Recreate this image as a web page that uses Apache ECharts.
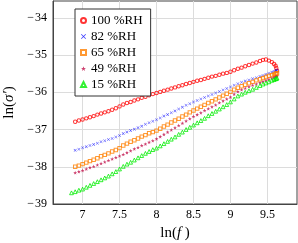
<!DOCTYPE html>
<html><head><meta charset="utf-8">
<script src="https://cdn.jsdelivr.net/npm/echarts@6/dist/echarts.min.js"></script>
<style>html,body{margin:0;padding:0;background:#fff}#c{width:298px;height:243px}</style>
</head><body><div id="c"></div>
<script>
const lnF = [6.85,6.90,6.95,7.00,7.05,7.10,7.15,7.20,7.25,7.30,
7.35,7.40,7.45,7.50,7.55,7.60,7.65,7.70,7.75,7.80,
7.85,7.90,7.95,8.00,8.05,8.10,8.15,8.20,8.25,8.30,
8.35,8.40,8.45,8.50,8.55,8.60,8.65,8.70,8.75,8.80,
8.85,8.90,8.95,9.00,9.05,9.10,9.15,9.20,9.25,9.30,
9.35,9.40,9.44,9.48,9.52,9.56,9.59,9.61,9.62,9.63];

const rh100 = [null,-36.79,-36.76,-36.73,-36.70,-36.67,-36.64,-36.60,-36.57,-36.54,
-36.51,-36.47,-36.43,-36.38,-36.33,-36.29,-36.26,-36.22,-36.19,-36.15,
-36.12,-36.08,-36.05,-36.02,-35.99,-35.96,-35.93,-35.90,-35.87,-35.84,
-35.81,-35.78,-35.75,-35.72,-35.69,-35.67,-35.64,-35.61,-35.58,-35.56,
-35.53,-35.50,-35.48,-35.45,-35.41,-35.37,-35.34,-35.30,-35.27,-35.23,
-35.20,-35.16,-35.13,-35.12,-35.15,-35.19,-35.24,-35.29,-35.35,-35.42];

const rh82 = [null,-37.56,-37.53,-37.49,-37.46,-37.43,-37.40,-37.37,-37.33,-37.30,
-37.27,-37.24,-37.20,-37.16,-37.11,-37.07,-37.03,-36.99,-36.95,-36.91,
-36.86,-36.82,-36.78,-36.74,-36.69,-36.64,-36.60,-36.55,-36.50,-36.45,
-36.40,-36.35,-36.31,-36.26,-36.22,-36.18,-36.14,-36.10,-36.06,-36.02,
-35.98,-35.94,-35.90,-35.86,-35.81,-35.77,-35.73,-35.70,-35.67,-35.64,
-35.61,-35.58,-35.55,-35.52,-35.49,-35.46,-35.44,-35.43,-35.42,-35.41];

const rh65 = [null,-38.00,-37.97,-37.93,-37.89,-37.85,-37.81,-37.77,-37.72,-37.68,
-37.64,-37.59,-37.55,-37.50,-37.43,-37.38,-37.33,-37.29,-37.24,-37.19,
-37.15,-37.10,-37.07,-37.03,-36.98,-36.92,-36.87,-36.81,-36.76,-36.71,
-36.65,-36.60,-36.54,-36.49,-36.44,-36.39,-36.34,-36.29,-36.24,-36.19,
-36.14,-36.09,-36.04,-35.99,-35.93,-35.88,-35.84,-35.80,-35.76,-35.72,
-35.68,-35.65,-35.62,-35.59,-35.56,-35.54,-35.52,-35.51,-35.50,-35.49];

const rh49 = [null,-38.16,-38.13,-38.10,-38.06,-38.02,-37.99,-37.95,-37.91,-37.87,
-37.83,-37.79,-37.75,-37.71,-37.67,-37.62,-37.57,-37.52,-37.48,-37.43,
-37.39,-37.34,-37.30,-37.25,-37.19,-37.13,-37.07,-37.01,-36.95,-36.89,
-36.83,-36.77,-36.71,-36.65,-36.60,-36.55,-36.49,-36.44,-36.39,-36.34,
-36.28,-36.23,-36.18,-36.13,-36.05,-35.98,-35.93,-35.89,-35.85,-35.81,
-35.78,-35.74,-35.71,-35.68,-35.65,-35.62,-35.60,-35.59,-35.58,-35.57];

const rh15 = [-38.70,-38.67,-38.63,-38.60,-38.55,-38.50,-38.45,-38.40,-38.35,-38.30,
-38.25,-38.19,-38.13,-38.06,-37.99,-37.93,-37.88,-37.82,-37.76,-37.70,
-37.64,-37.59,-37.54,-37.50,-37.44,-37.38,-37.32,-37.26,-37.20,-37.13,
-37.07,-37.00,-36.94,-36.88,-36.82,-36.76,-36.70,-36.63,-36.57,-36.51,
-36.45,-36.39,-36.33,-36.26,-36.18,-36.10,-36.05,-36.00,-35.96,-35.92,
-35.87,-35.82,-35.78,-35.75,-35.72,-35.68,-35.66,-35.64,-35.63,-35.62];

const seriesNames = ['100 %RH','82 %RH','65 %RH','49 %RH','15 %RH'];
const xTicks = [7,7.5,8,8.5,9,9.5];
const yTicks = [-39,-38,-37,-36,-35,-34];

const SERIF = '"Liberation Serif","DejaVu Serif",serif';
const crossPath = 'path://M0,1L1,0L5,4L9,0L10,1L6,5L10,9L9,10L5,6L1,10L0,9L4,5Z';
const starPath = 'path://M5,0L6.2,3.5L10,3.6L7,5.9L8.1,9.5L5,7.4L1.9,9.5L3,5.9L0,3.6L3.8,3.5Z';

function pairs(ys){ const out=[]; for(let i=0;i<lnF.length;i++){ if(ys[i]!=null) out.push([lnF[i],ys[i]]); } return out; }
function fmt(v){ return v<0 ? '\u2212\u200a'+Math.abs(v) : String(v); }

const styles = [
  {data: rh100, symbol:'circle', size:3.4, color:'#ff0000', open:true},
  {data: rh82, symbol:crossPath, size:3, color:'#0000ff', open:false},
  {data: rh65, symbol:'rect', size:3.4, color:'#ff8000', open:true},
  {data: rh49, symbol:starPath, size:3.8, color:'#c0104a', open:false},
  {data: rh15, symbol:'triangle', size:3.8, color:'#00ee00', open:true}
];

const series = styles.map((s,k)=>({
  type:'scatter', name: seriesNames[k], data: pairs(s.data),
  symbol: s.symbol, symbolSize: s.size, z: 2+k,
  itemStyle: s.open ? {color:'rgba(0,0,0,0)', borderColor:s.color, borderWidth:1} : {color:s.color},
  emphasis:{disabled:true}, animation:false
}));

const nameRich = {a:{fontFamily:SERIF,fontSize:15,color:'#000'},i:{fontFamily:SERIF,fontSize:15,fontStyle:'italic',color:'#000'}};

const chart = echarts.init(document.getElementById('c'), null, {renderer:'canvas'});
chart.setOption({
  animation:false,
  backgroundColor:'#fff',
  grid:{left:53, right:1, top:1, bottom:39, show:true, borderColor:'#444', borderWidth:1, backgroundColor:'transparent', containLabel:false, outerBoundsMode:'none'},
  legend:{
    orient:'vertical', left:75, top:9, padding:[4,8,4,5],
    itemWidth:5, itemHeight:5, itemGap:1,
    borderColor:'#333', borderWidth:1, backgroundColor:'#fff', borderRadius:0,
    textStyle:{fontFamily:SERIF, fontSize:13, color:'#000', lineHeight:15},
    data: seriesNames
  },
  xAxis:{
    type:'value', min:6.6, max:9.9,
    name:'{a|ln(}{i|f}{a| )}', nameLocation:'middle', nameGap:22,
    nameTextStyle:{rich:nameRich},
    axisLine:{show:true, lineStyle:{color:'#444', width:1}},
    axisTick:{show:false, customValues:xTicks},
    axisLabel:{customValues:xTicks, formatter:fmt, fontFamily:SERIF, fontSize:12, color:'#000', margin:5},
    splitLine:{show:true, lineStyle:{color:'#dcdcdc', width:1}}
  },
  yAxis:{
    type:'value', min:-39, max:-33.55,
    name:'{a|ln(}{i|σ′}{a|)}', nameLocation:'middle', nameGap:33, nameRotate:90,
    nameTextStyle:{rich:nameRich},
    axisLine:{show:true, lineStyle:{color:'#444', width:1}},
    axisTick:{show:false, customValues:yTicks},
    axisLabel:{customValues:yTicks, formatter:fmt, fontFamily:SERIF, fontSize:12, color:'#000', margin:6},
    splitLine:{show:true, lineStyle:{color:'#dcdcdc', width:1}}
  },
  series: series
});
</script></body></html>
